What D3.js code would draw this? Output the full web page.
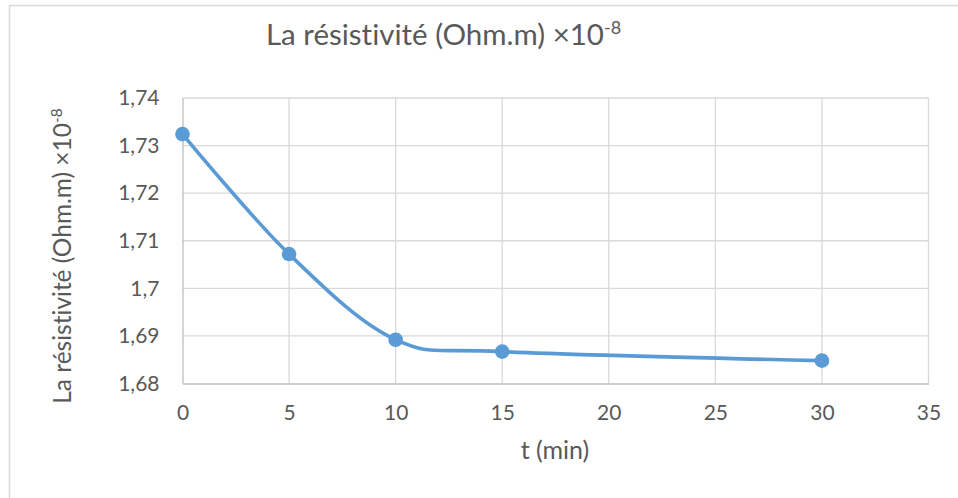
<!DOCTYPE html>
<html><head><meta charset="utf-8">
<script src="https://cdn.jsdelivr.net/npm/d3@7"></script>
<style>body{margin:0;background:#fff}svg{display:block}text{font-family:Lato,"Liberation Sans",sans-serif;fill:#595959;font-variant-ligatures:none;font-feature-settings:"liga" 0}</style>
</head><body>
<svg id="c" width="958" height="498"></svg>
<script>
const times = [0, 5, 10, 15, 30];
const resistivity = [1.7324, 1.7072, 1.6892, 1.6867, 1.6848];
const xTicks = [0, 5, 10, 15, 20, 25, 30, 35];
const yTicks = [1.68, 1.69, 1.70, 1.71, 1.72, 1.73, 1.74];
const titleText = "La résistivité (Ohm.m) ×10";
const xTitle = "t (min)";

const svg = d3.select("#c");
svg.append("rect").attr("x", 9.5).attr("y", 5.5).attr("width", 960).attr("height", 500)
  .attr("fill", "#fff").attr("stroke", "#d9d9d9").attr("stroke-width", 1.5);

const L = 182.5, R = 928.5, T = 98, B = 383.5;
const x = d3.scaleLinear().domain([0, 35]).range([L, R]);
const y = d3.scaleLinear().domain([1.68, 1.74]).range([B, T]);
const fmt = v => d3.format(".2~f")(v).replace(".", ",");

const g = svg.append("g");
g.selectAll(".hg").data(yTicks.filter(v => v > 1.68)).join("line")
  .attr("x1", L).attr("x2", R).attr("y1", d => y(d)).attr("y2", d => y(d))
  .attr("stroke", "#d9d9d9").attr("stroke-width", 1.3);
g.selectAll(".vg").data(xTicks.filter(v => v > 0)).join("line")
  .attr("y1", T).attr("y2", B).attr("x1", d => x(d)).attr("x2", d => x(d))
  .attr("stroke", "#d9d9d9").attr("stroke-width", 1.3);
const xAxis = d3.axisBottom(x).tickValues(xTicks).tickSize(0).tickPadding(22).tickFormat(d => d);
const gx = svg.append("g").attr("transform", `translate(0,${B})`).call(xAxis);
gx.select(".domain").attr("stroke", "#bfbfbf").attr("stroke-width", 1.3);
gx.selectAll("text").attr("font-size", 21).attr("fill", "#595959").style("font-family", "Lato");
const yAxis = d3.axisLeft(y).tickValues(yTicks).tickSize(0).tickPadding(23).tickFormat(fmt);
const gy = svg.append("g").attr("transform", `translate(${L},0)`).call(yAxis);
gy.select(".domain").attr("stroke", "#bfbfbf").attr("stroke-width", 1.3);
gy.selectAll("text").attr("font-size", 21).attr("fill", "#595959").style("font-family", "Lato");

const data = times.map((t, i) => ({t, v: resistivity[i]}));
const line = d3.line().x(d => x(d.t)).y(d => y(d.v)).curve(d3.curveCardinal.tension(0));
svg.append("path").datum(data).attr("d", line).attr("fill", "none")
  .attr("stroke", "#5b9bd5").attr("stroke-width", 3.6).attr("stroke-linejoin", "round");
svg.selectAll(".pt").data(data).join("circle")
  .attr("cx", d => x(d.t)).attr("cy", d => y(d.v)).attr("r", 7.3).attr("fill", "#5b9bd5");

const tt = svg.append("text").attr("x", 443.5).attr("y", 45).attr("text-anchor", "middle").attr("font-size", 29.5);
tt.append("tspan").text(titleText);
tt.append("tspan").attr("font-size", 18).attr("dy", -11).text("-8");
svg.append("text").attr("x", 555).attr("y", 459).attr("text-anchor", "middle").attr("font-size", 25).text(xTitle);
const yt = svg.append("text").attr("transform", "translate(71,256) rotate(-90)").attr("text-anchor", "middle").attr("font-size", 24.5);
yt.append("tspan").text(titleText);
yt.append("tspan").attr("font-size", 15.5).attr("dy", -9.5).text("-8");
</script>
</body></html>
